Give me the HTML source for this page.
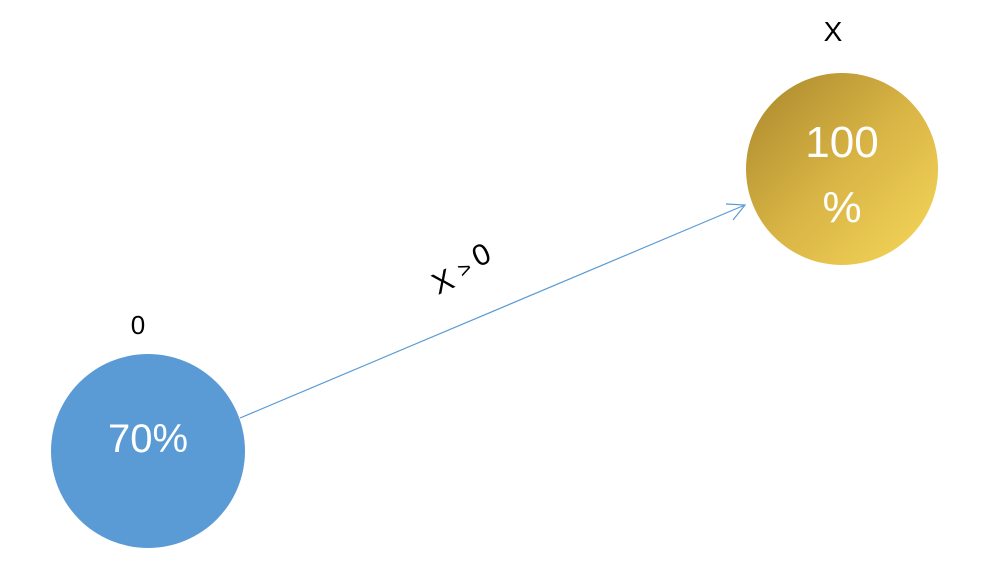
<!DOCTYPE html>
<html><head><meta charset="utf-8"><style>
html,body{margin:0;padding:0;background:#fff;width:1000px;height:577px;overflow:hidden}
</style></head><body>
<svg width="1000" height="577" viewBox="0 0 1000 577" xmlns="http://www.w3.org/2000/svg" font-family="Liberation Sans, Arial, sans-serif">
<defs>
<linearGradient id="g" x1="0" y1="0" x2="1" y2="1">
<stop offset="0" stop-color="#a8862a"/>
<stop offset="0.5" stop-color="#d8b445"/>
<stop offset="1" stop-color="#f7d85a"/>
</linearGradient>
</defs>
<circle cx="148" cy="451" r="97" fill="#5b9bd5"/>
<text x="148" y="452" font-size="40" fill="#fff" text-anchor="middle">70%</text>
<text x="138" y="334" font-size="26" fill="#000" text-anchor="middle">0</text>
<circle cx="842" cy="169" r="96" fill="url(#g)"/>
<text x="842" y="157" font-size="44" fill="#fff" text-anchor="middle">100</text>
<text x="842" y="222" font-size="44" fill="#fff" text-anchor="middle">%</text>
<text x="833" y="41" font-size="28" fill="#000" text-anchor="middle">X</text>
<line x1="240" y1="418" x2="745" y2="205" stroke="#5b9bd5" stroke-width="1.2"/>
<polyline points="726,204 745,205 733,220" fill="none" stroke="#5b9bd5" stroke-width="1.2"/>
<g transform="translate(438,295) rotate(-25)">
<text x="0" y="0" font-size="30" fill="#000">X<tspan font-size="22" dx="9" dy="-5">&gt;</tspan><tspan font-size="30" dx="6" dy="-3">0</tspan></text>
</g>
</svg>
</body></html>
